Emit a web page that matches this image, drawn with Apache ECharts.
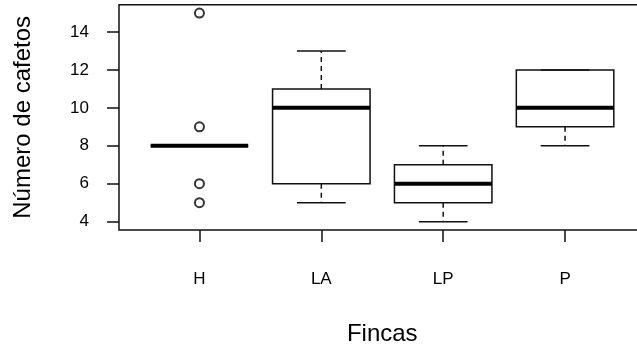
<!DOCTYPE html>
<html>
<head>
<meta charset="utf-8">
<title>Número de cafetos por finca</title>
<script src="https://cdn.jsdelivr.net/npm/echarts@6.0.0/dist/echarts.min.js"></script>
<style>
  html, body { margin: 0; padding: 0; background: #fff; }
  #boxChart { width: 637px; height: 346px; }
</style>
</head>
<body>
<div id="boxChart"></div>
<script>
// datos de las fincas
var categories = ['H', 'LA', 'LP', 'P'];
var mins    = [8, 5, 4, 8];
var q1      = [8, 6, 5, 9];
var medians = [8, 10, 6, 10];
var q3      = [8, 11, 7, 12];
var maxs    = [8, 13, 8, 12];
// valores atipicos
var outlierFinca  = ['H', 'H', 'H', 'H'];
var outlierValues = [15, 9, 6, 5];
var yTicks = [4, 6, 8, 10, 12, 14];

var FONT = '"Liberation Sans", Arial, sans-serif';

var boxData = categories.map(function(c, i) {
    return [i + 1, mins[i], q1[i], medians[i], q3[i], maxs[i]];
});
var outlierData = outlierValues.map(function(v, i) {
    return [categories.indexOf(outlierFinca[i]) + 1, v];
});

// caja estilo R: bigotes punteados, caja y mediana gruesa
function renderBox(params, api) {
    var x = api.value(0);
    var lo = api.value(1), b1 = api.value(2), md = api.value(3), b3 = api.value(4), hi = api.value(5);
    var half = 0.4, cap = 0.2;
    var line = { stroke: '#111', lineWidth: 1.5, fill: null };
    var dash = { stroke: '#111', lineWidth: 1.5, lineDash: [5, 4], fill: null };
    function seg(x1, y1, x2, y2, style) {
        var a = api.coord([x1, y1]), b = api.coord([x2, y2]);
        return { type: 'line', shape: { x1: a[0], y1: a[1], x2: b[0], y2: b[1] }, style: style };
    }
    var tl = api.coord([x - half, b3]);
    var br = api.coord([x + half, b1]);
    return {
        type: 'group',
        children: [
            seg(x, b3, x, hi, dash),
            seg(x, b1, x, lo, dash),
            seg(x - cap, hi, x + cap, hi, line),
            seg(x - cap, lo, x + cap, lo, line),
            { type: 'rect', shape: { x: tl[0], y: tl[1], width: br[0] - tl[0], height: br[1] - tl[1] }, style: line },
            seg(x - half, md, x + half, md, { stroke: '#000', lineWidth: 4, lineCap: 'butt' })
        ]
    };
}

var chart = echarts.init(document.getElementById('boxChart'), null, { renderer: 'canvas' });
var option = {
    backgroundColor: '#fff',
    animation: false,
    grid: {
        left: 119,
        right: -8.5,
        top: 4.7,
        bottom: 116,
        show: true,
        borderColor: '#111',
        borderWidth: 1.5,
        backgroundColor: 'transparent',
        containLabel: false,
        outerBoundsMode: 'none'
    },
    xAxis: {
        type: 'value',
        min: 0.34,
        max: 4.66,
        name: 'Fincas',
        nameLocation: 'middle',
        nameGap: 92,
        nameTextStyle: { fontFamily: FONT, fontSize: 24, color: '#000' },
        splitLine: { show: false },
        axisLine: { show: false },
        axisTick: { show: true, inside: false, length: 12, customValues: [1, 2, 3, 4], lineStyle: { color: '#111', width: 1.5 } },
        axisLabel: {
            customValues: [1, 2, 3, 4],
            margin: 41,
            fontFamily: FONT,
            fontSize: 17,
            color: '#000',
            formatter: function(v) { return categories[Math.round(v) - 1]; }
        }
    },
    yAxis: {
        type: 'value',
        min: 3.56,
        max: 15.44,
        name: 'Número de cafetos',
        nameLocation: 'middle',
        nameGap: 84,
        nameTextStyle: { fontFamily: FONT, fontSize: 24, color: '#000' },
        splitLine: { show: false },
        axisLine: { show: false },
        axisTick: { show: true, inside: false, length: 12, customValues: yTicks, lineStyle: { color: '#111', width: 1.5 } },
        axisLabel: {
            customValues: yTicks,
            margin: 30,
            fontFamily: FONT,
            fontSize: 17,
            color: '#000'
        }
    },
    series: [
        {
            name: 'cajas',
            type: 'custom',
            renderItem: renderBox,
            encode: { x: 0, y: [1, 2, 3, 4, 5] },
            data: boxData,
            z: 2
        },
        {
            name: 'atipicos',
            type: 'scatter',
            symbol: 'emptyCircle',
            symbolSize: 9,
            // en emptyCircle el color es el del trazo
            itemStyle: { color: '#000', borderWidth: 1.2 },
            data: outlierData,
            z: 3
        }
    ]
};
chart.setOption(option);
</script>
</body>
</html>
